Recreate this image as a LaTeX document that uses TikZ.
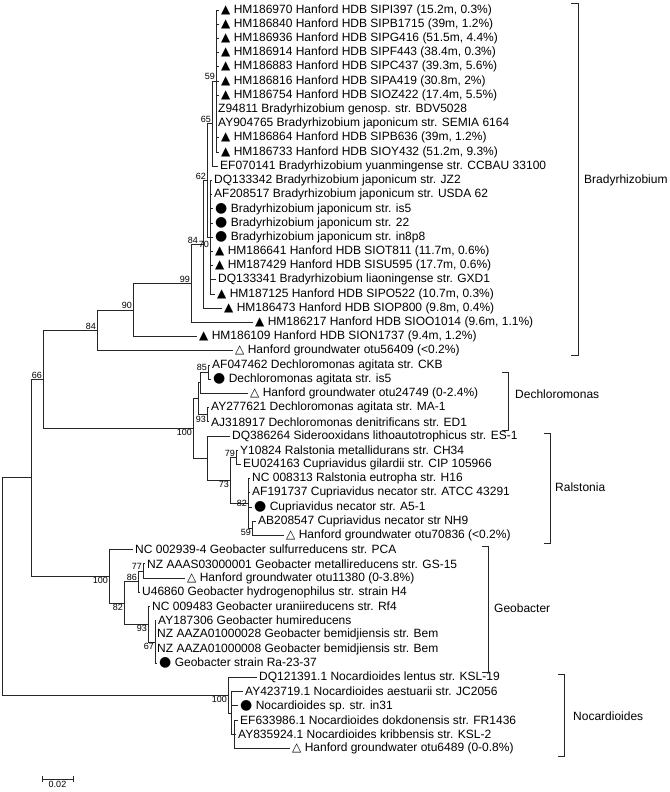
\documentclass[tikz,border=0pt]{standalone}
\usepackage{fontspec}
\setmainfont{Liberation Sans}
\newfontfamily\symfont{DejaVu Sans}
\usetikzlibrary{positioning,calc}

% leaf rows are 14.2 units apart
\pgfmathdeclarefunction{rowy}{1}{\pgfmathparse{10+(#1-1)*14.2}}

\newcommand{\ftri}{{\symfont ▲}}
\newcommand{\otri}{{\symfont △}}
\newcommand{\fdot}{{\symfont\fontsize{14}{14}\selectfont ●}}

\begin{document}
\begin{tikzpicture}[
  x=1pt, y=-1pt,
  leaf/.style={anchor=west, inner xsep=2pt, inner ysep=0pt,
    font=\fontsize{12}{14}\selectfont},
  boot/.style={inner sep=1pt, font=\fontsize{9}{10}\selectfont},
  clade/.style={anchor=west, inner sep=0pt, font=\fontsize{12}{14}\selectfont},
  bar/.style={draw=black!85, line width=0.7pt},
  ]
  \useasboundingbox (0,0) rectangle (669,792);

  % internal nodes
  \coordinate (n59)   at (216,{rowy(6)});
  \coordinate (n65)   at (212,{rowy(9)});
  \coordinate (n70)   at (210,{rowy(17)});
  \coordinate (n62)   at (207,{rowy(13)});
  \coordinate (n84a)  at (203,{rowy(17.5)});
  \coordinate (n99)   at (191,{rowy(20.25)});
  \coordinate (n90)   at (133,{rowy(22.125)});
  \coordinate (n84b)  at (97,{rowy(23.5625)});
  \coordinate (n85)   at (208,{rowy(26.5)});
  \coordinate (ndx)   at (200,{rowy(27.25)});
  \coordinate (n93d)  at (207,{rowy(29.5)});
  \coordinate (ndec)  at (198,{rowy(28.375)});
  \coordinate (n79)   at (236,{rowy(32.5)});
  \coordinate (n59r)  at (252,{rowy(37.5)});
  \coordinate (n82r)  at (248,{rowy(35.75)});
  \coordinate (n73)   at (230,{rowy(34.125)});
  \coordinate (nral)  at (207,{rowy(32.5625)});
  \coordinate (n100a) at (193,{rowy(30.46875)});
  \coordinate (n66)   at (43,{rowy(27.015625)});
  \coordinate (n77)   at (143,{rowy(40.5)});
  \coordinate (n86)   at (138,{rowy(41.25)});
  \coordinate (n67)   at (155,{rowy(45.5)});
  \coordinate (n93g)  at (148,{rowy(44.25)});
  \coordinate (n82g)  at (124,{rowy(42.75)});
  \coordinate (n100g) at (109,{rowy(40.875)});
  \coordinate (nA)    at (31,{rowy(33.9453)});
  \coordinate (nN3)   at (234,{rowy(52)});
  \coordinate (nN2)   at (231,{rowy(50.5)});
  \coordinate (nN100) at (228,{rowy(49.25)});
  \coordinate (root)  at (2,{rowy(41.6)});

  % Bradyrhizobium
  \node[leaf] (l01) at (219,{rowy(1)})  {\ftri\ HM186970 Hanford HDB SIPI397 (15.2m, 0.3\%)};
  \node[leaf] (l02) at (219,{rowy(2)})  {\ftri\ HM186840 Hanford HDB SIPB1715 (39m, 1.2\%)};
  \node[leaf] (l03) at (219,{rowy(3)})  {\ftri\ HM186936 Hanford HDB SIPG416 (51.5m, 4.4\%)};
  \node[leaf] (l04) at (219,{rowy(4)})  {\ftri\ HM186914 Hanford HDB SIPF443 (38.4m, 0.3\%)};
  \node[leaf] (l05) at (219,{rowy(5)})  {\ftri\ HM186883 Hanford HDB SIPC437 (39.3m, 5.6\%)};
  \node[leaf] (l06) at (219,{rowy(6)})  {\ftri\ HM186816 Hanford HDB SIPA419 (30.8m, 2\%)};
  \node[leaf] (l07) at (219,{rowy(7)})  {\ftri\ HM186754 Hanford HDB SIOZ422 (17.4m, 5.5\%)};
  \node[leaf] (l08) at (216,{rowy(8)})  {Z94811 Bradyrhizobium genosp. str. BDV5028};
  \node[leaf] (l09) at (216,{rowy(9)})  {AY904765 Bradyrhizobium japonicum str. SEMIA 6164};
  \node[leaf] (l10) at (219,{rowy(10)}) {\ftri\ HM186864 Hanford HDB SIPB636 (39m, 1.2\%)};
  \node[leaf] (l11) at (219,{rowy(11)}) {\ftri\ HM186733 Hanford HDB SIOY432 (51.2m, 9.3\%)};
  \node[leaf] (l12) at (218,{rowy(12)}) {EF070141 Bradyrhizobium yuanmingense str. CCBAU 33100};
  \node[leaf] (l13) at (212,{rowy(13)}) {DQ133342 Bradyrhizobium japonicum str. JZ2};
  \node[leaf] (l14) at (212,{rowy(14)}) {AF208517 Bradyrhizobium japonicum str. USDA 62};
  \node[leaf] (l15) at (213,{rowy(15)}) {\fdot\ Bradyrhizobium japonicum str. is5};
  \node[leaf] (l16) at (213,{rowy(16)}) {\fdot\ Bradyrhizobium japonicum str. 22};
  \node[leaf] (l17) at (213,{rowy(17)}) {\fdot\ Bradyrhizobium japonicum str. in8p8};
  \node[leaf] (l18) at (213,{rowy(18)}) {\ftri\ HM186641 Hanford HDB SIOT811 (11.7m, 0.6\%)};
  \node[leaf] (l19) at (213,{rowy(19)}) {\ftri\ HM187429 Hanford HDB SISU595 (17.7m, 0.6\%)};
  \node[leaf] (l20) at (216,{rowy(20)}) {DQ133341 Bradyrhizobium liaoningense str. GXD1};
  \node[leaf] (l21) at (215,{rowy(21)}) {\ftri\ HM187125 Hanford HDB SIPO522 (10.7m, 0.3\%)};
  \node[leaf] (l22) at (222,{rowy(22)}) {\ftri\ HM186473 Hanford HDB SIOP800 (9.8m, 0.4\%)};
  \node[leaf] (l23) at (253,{rowy(23)}) {\ftri\ HM186217 Hanford HDB SIOO1014 (9.6m, 1.1\%)};
  \node[leaf] (l24) at (197,{rowy(24)}) {\ftri\ HM186109 Hanford HDB SION1737 (9.4m, 1.2\%)};
  \node[leaf] (l25) at (233,{rowy(25)}) {\otri\ Hanford groundwater otu56409 (<0.2\%)};
  % Dechloromonas
  \node[leaf] (l26) at (210,{rowy(26)}) {AF047462 Dechloromonas agitata str. CKB};
  \node[leaf] (l27) at (211,{rowy(27)}) {\fdot\ Dechloromonas agitata str. is5};
  \node[leaf] (l28) at (248,{rowy(28)}) {\otri\ Hanford groundwater otu24749 (0-2.4\%)};
  \node[leaf] (l29) at (209,{rowy(29)}) {AY277621 Dechloromonas agitata str. MA-1};
  \node[leaf] (l30) at (209,{rowy(30)}) {AJ318917 Dechloromonas denitrificans str. ED1};
  % Ralstonia
  \node[leaf] (l31) at (230,{rowy(31)}) {DQ386264 Siderooxidans lithoautotrophicus str. ES-1};
  \node[leaf] (l32) at (238,{rowy(32)}) {Y10824 Ralstonia metallidurans str. CH34};
  \node[leaf] (l33) at (241,{rowy(33)}) {EU024163 Cupriavidus gilardii str. CIP 105966};
  \node[leaf] (l34) at (250,{rowy(34)}) {NC 008313 Ralstonia eutropha str. H16};
  \node[leaf] (l35) at (250,{rowy(35)}) {AF191737 Cupriavidus necator str. ATCC 43291};
  \node[leaf] (l36) at (252,{rowy(36)}) {\fdot\ Cupriavidus necator str. A5-1};
  \node[leaf] (l37) at (256,{rowy(37)}) {AB208547 Cupriavidus necator str NH9};
  \node[leaf] (l38) at (284,{rowy(38)}) {\otri\ Hanford groundwater otu70836 (<0.2\%)};
  % Geobacter
  \node[leaf] (l39) at (133,{rowy(39)}) {NC 002939-4 Geobacter sulfurreducens str. PCA};
  \node[leaf] (l40) at (145,{rowy(40)}) {NZ AAAS03000001 Geobacter metallireducens str. GS-15};
  \node[leaf] (l41) at (185,{rowy(41)}) {\otri\ Hanford groundwater otu11380 (0-3.8\%)};
  \node[leaf] (l42) at (140,{rowy(42)}) {U46860 Geobacter hydrogenophilus str. strain H4};
  \node[leaf] (l43) at (150,{rowy(43)}) {NC 009483 Geobacter uraniireducens str. Rf4};
  \node[leaf] (l44) at (156,{rowy(44)}) {AY187306 Geobacter humireducens};
  \node[leaf] (l45) at (155,{rowy(45)}) {NZ AAZA01000028 Geobacter bemidjiensis str. Bem};
  \node[leaf] (l46) at (155,{rowy(46)}) {NZ AAZA01000008 Geobacter bemidjiensis str. Bem};
  \node[leaf] (l47) at (157,{rowy(47)}) {\fdot\ Geobacter strain Ra-23-37};
  % Nocardioides
  \node[leaf] (l48) at (257,{rowy(48)}) {DQ121391.1 Nocardioides lentus str. KSL-19};
  \node[leaf] (l49) at (243,{rowy(49)}) {AY423719.1 Nocardioides aestuarii str. JC2056};
  \node[leaf] (l50) at (238,{rowy(50)}) {\fdot\ Nocardioides sp. str. in31};
  \node[leaf] (l51) at (238,{rowy(51)}) {EF633986.1 Nocardioides dokdonensis str. FR1436};
  \node[leaf] (l52) at (236,{rowy(52)}) {AY835924.1 Nocardioides kribbensis str. KSL-2};
  \node[leaf] (l53) at (290,{rowy(53)}) {\otri\ Hanford groundwater otu6489 (0-0.8\%)};

  \begin{scope}[
    every edge/.style={draw=black!85, line width=0.7pt,
      to path={|- (\tikztotarget)}},
    ]
    \path
    (n59) edge (l01) edge (l02) edge (l03) edge (l04) edge (l05) edge (l06)
          edge (l07) edge (l08) edge (l09) edge (l10) edge (l11)
    (n65) edge (n59) edge (l12)
    (n70) edge (l13) edge (l14) edge (l15) edge (l16) edge (l17)
          edge (l18) edge (l19) edge (l20) edge (l21)
    (n62) edge (n65) edge (n70)
    (n84a) edge (n62) edge (l22)
    (n99) edge (n84a) edge (l23)
    (n90) edge (n99) edge (l24)
    (n84b) edge (n90) edge (l25)
    (n85) edge (l26) edge (l27)
    (ndx) edge (n85) edge (l28)
    (n93d) edge (l29) edge (l30)
    (ndec) edge (ndx) edge (n93d)
    (n79) edge (l32) edge (l33)
    (n59r) edge (l37) edge (l38)
    (n82r) edge (l34) edge (l35) edge (l36) edge (n59r)
    (n73) edge (n79) edge (n82r)
    (nral) edge (l31) edge (n73)
    (n100a) edge (ndec) edge (nral)
    (n66) edge (n84b) edge (n100a)
    (n77) edge (l40) edge (l41)
    (n86) edge (n77) edge (l42)
    (n67) edge (l44) edge (l45) edge (l46) edge (l47)
    (n93g) edge (l43) edge (n67)
    (n82g) edge (n86) edge (n93g)
    (n100g) edge (l39) edge (n82g)
    (nA) edge (n66) edge (n100g)
    (nN3) edge (l51) edge (l52) edge (l53)
    (nN2) edge (l49) edge (l50) edge (nN3)
    (nN100) edge (l48) edge (nN2)
    (root) edge (nA) edge (nN100);
  \end{scope}

  % bootstrap values
  \node[boot, above left] (b59)   at (n59)   {59};
  \node[boot, above left] (b65)   at (n65)   {65};
  \node[boot, above left] (b62)   at (n62)   {62};
  \node[boot, below left, yshift=-3pt] (b70) at (n70) {70};
  \node[boot, above left, xshift=-4pt] (b84a) at (n84a) {84};
  \node[boot, above left] (b99)   at (n99)   {99};
  \node[boot, above left] (b90)   at (n90)   {90};
  \node[boot, above left] (b84b)  at (n84b)  {84};
  \node[boot, above left] (b66)   at (n66)   {66};
  \node[boot, above left] (b85)   at (n85)   {85};
  \node[boot, below left] (b93d)  at (n93d)  {93};
  \node[boot, below left] (b100a) at (n100a) {100};
  \node[boot, above left] (b79)   at (n79)   {79};
  \node[boot, below left] (b73)   at (n73)   {73};
  \node[boot, left]       (b82r)  at (n82r)  {82};
  \node[boot, below left] (b59r)  at (n59r)  {59};
  \node[boot, below left] (b100g) at (n100g) {100};
  \node[boot, above left] (b77)   at (n77)   {77};
  \node[boot, above left] (b86)   at (n86)   {86};
  \node[boot, below left] (b82g)  at (n82g)  {82};
  \node[boot, below left] (b93g)  at (n93g)  {93};
  \node[boot, below left] (b67)   at (n67)   {67};
  \node[boot, below left] (bN100) at (nN100) {100};

  % clade brackets
  \draw[bar] (571,3) -| (578,355) -- (571,355);
  \node[clade] (cbrady) at (584,180) {Bradyrhizobium};
  \draw[bar] (502,372) -| (508,430) -- (502,430);
  \node[clade] (cdechl) at (515,394) {Dechloromonas};
  \draw[bar] (544,433) -| (550,543) -- (544,543);
  \node[clade] (cralst) at (555,487) {Ralstonia};
  \draw[bar] (482,546) -| (488,672) -- (482,672);
  \node[clade] (cgeob) at (494,608) {Geobacter};
  \draw[bar] (558,674) -| (564,756) -- (558,756);
  \node[clade] (cnocar) at (573,716) {Nocardioides};

  % scale bar
  \coordinate (sbl) at (42,779);
  \coordinate (sbr) at (73,779);
  \draw[bar] (sbl) -- (sbr);
  \draw[bar] ([yshift=-3pt]sbl) -- ([yshift=3pt]sbl);
  \draw[bar] ([yshift=-3pt]sbr) -- ([yshift=3pt]sbr);
  \node[boot, below=1pt of $(sbl)!0.5!(sbr)$] (sblab) {0.02};
\end{tikzpicture}
\end{document}
